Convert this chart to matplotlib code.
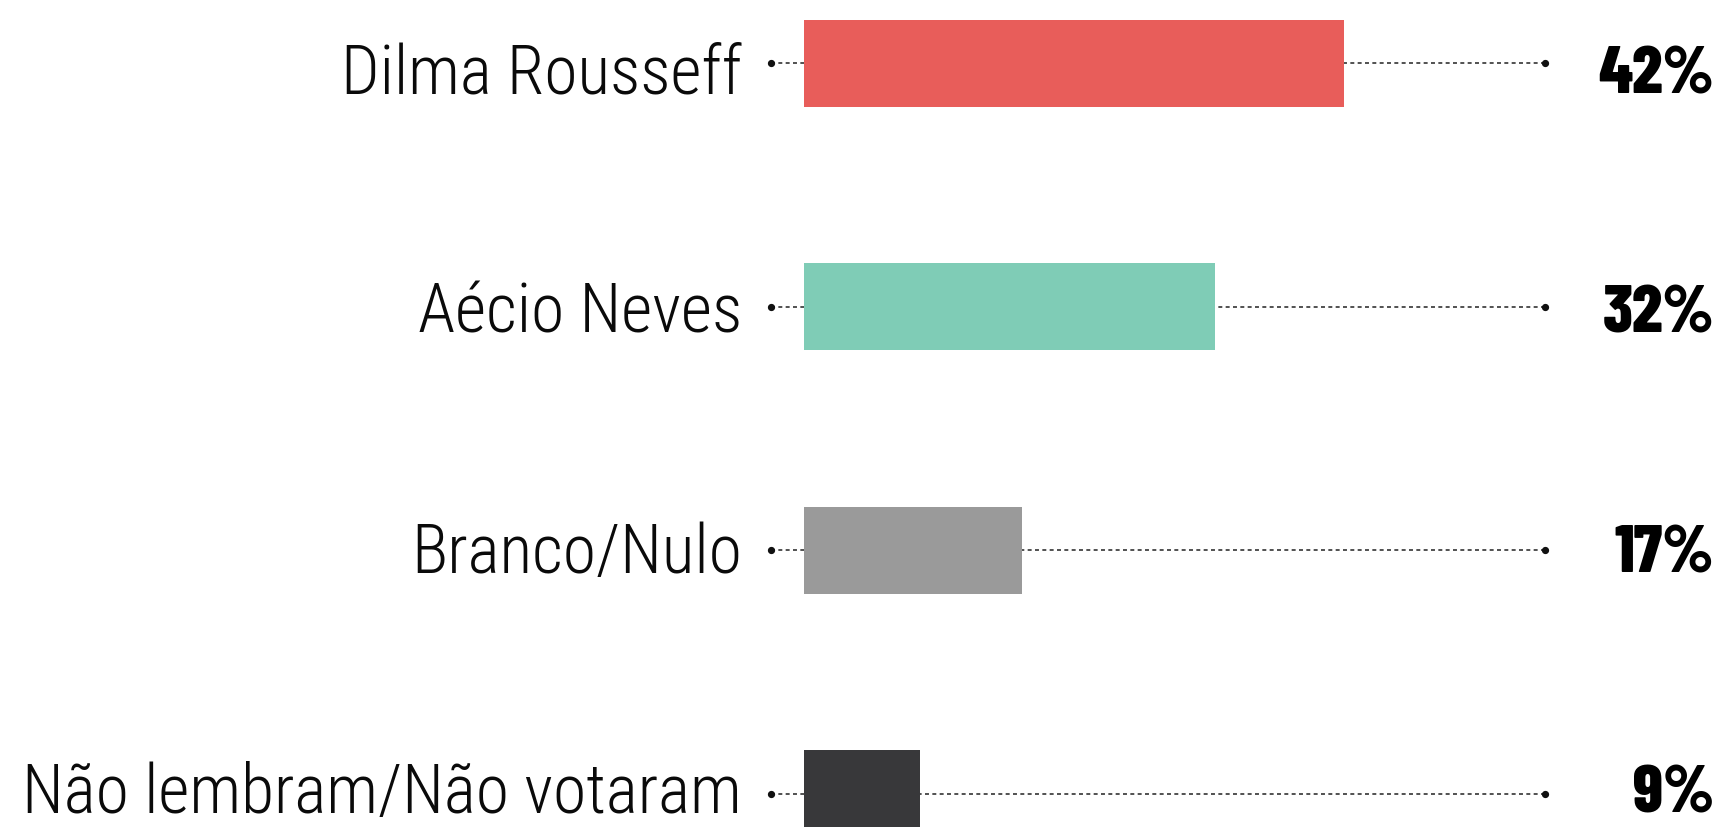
import matplotlib
matplotlib.use("Agg")
import matplotlib.pyplot as plt
import matplotlib.transforms as mtransforms

# Survey answers: who the respondent voted for
categories = ["Dilma Rousseff", "Aécio Neves", "Branco/Nulo", "Não lembram/Não votaram"]
values = [42, 32, 17, 9]
value_labels = ["42%", "32%", "17%", "9%"]
colors = ["#E85D5A", "#7FCCB6", "#9A9A9A", "#38383A"]

# Layout (pixels at 100 dpi)
W, H = 1720, 827
bar_x0 = 804          # left edge of the bars
px_per_unit = 12.85   # pixels per percentage point
row0_y = 63           # centre of first row from top
row_step = 243.6      # distance between rows
bar_h_px = 87
guide_start, guide_end = -2.6, 57.7
label_right_px = 742
value_right_px = 1714
text_base0 = 30.0     # baseline offset below row centre, first row
text_base_drift = -3.7

fig = plt.figure(figsize=(W / 100, H / 100), dpi=100)
ax = fig.add_axes([0, 0, 1, 1])
ax.set_xlim(-bar_x0 / px_per_unit, (W - bar_x0) / px_per_unit)
ax.set_ylim((H - row0_y) / row_step, -row0_y / row_step)
ax.axis("off")

label_font = dict(family="Roboto Condensed", weight=300, size=48.8, color="#0A0A0A")
value_font = dict(family="Barlow Condensed", weight=800, size=48.5, color="#000000")

ypos = list(range(len(categories)))

# dotted guide lines with end dots, drawn beneath the bars
for y in ypos:
    ax.plot([guide_start, guide_end], [y, y], color="#222222", lw=1.1,
            dashes=(2.6, 2.2), zorder=1)
    ax.plot([guide_start, guide_end], [y, y], ls="none", marker="o",
            ms=4.2, color="#111111", zorder=1)

ax.barh(ypos, values, height=bar_h_px / row_step, left=0, color=colors, zorder=2)

trans_val = mtransforms.blended_transform_factory(ax.transAxes, ax.transData)
label_x = (label_right_px - bar_x0) / px_per_unit
for i, (cat, lab) in enumerate(zip(categories, value_labels)):
    yb = i + (text_base0 + text_base_drift * i) / row_step
    ax.text(label_x, yb, cat, ha="right", va="baseline", **label_font)
    ax.text(value_right_px / W, yb, lab, ha="right", va="baseline",
            transform=trans_val, **value_font)

fig.savefig("out.png", dpi=100, facecolor="white")
